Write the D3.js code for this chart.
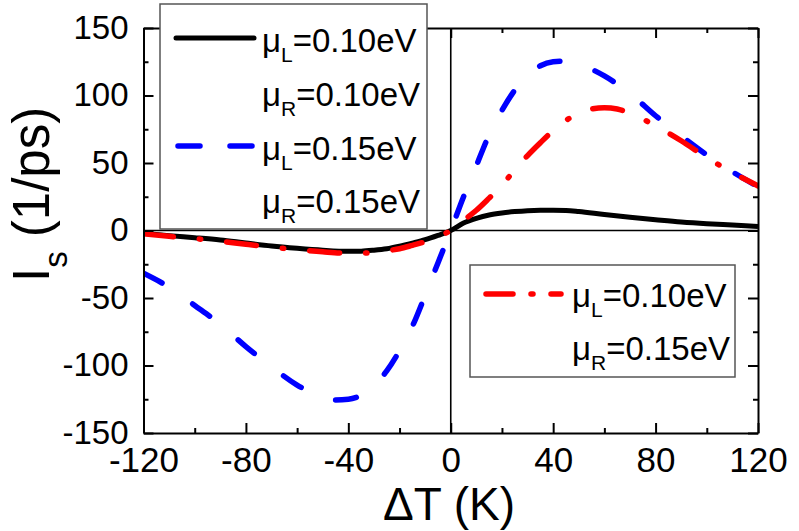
<!DOCTYPE html>
<html>
<head>
<meta charset="utf-8">
<script src="https://cdn.jsdelivr.net/npm/d3@7"></script>
<style>
  html, body { margin: 0; padding: 0; background: #fff; }
  svg { display: block; font-family: "Liberation Sans", Arial, sans-serif; }
</style>
</head>
<body>
<svg id="chart" width="799" height="531"></svg>
<script>
// ---- data ----
const xTicksMajor = [-120, -80, -40, 0, 40, 80, 120];
const xTicksMinor = [-100, -60, -20, 20, 60, 100];
const yTicksMajor = [-150, -100, -50, 0, 50, 100, 150];
const yTicksMinor = [-125, -75, -25, 25, 75, 125];

// mu_L = 0.10 eV, mu_R = 0.10 eV (black solid)
const tBlack = [-120,-110,-100,-90,-80,-70,-60,-50,-40,-35,-30,-25,-20,-15,-10,-5,0,5,10,15,20,25,30,35,40,45,50,60,70,80,90,100,110,120];
const vBlack = [-2,-3.8,-5.3,-7,-9.3,-11.5,-13.2,-14.6,-15.4,-15.3,-14.6,-13.5,-11.6,-9.3,-6.8,-3.6,0,5.5,9,11.5,13,14,14.7,15,15,14.8,14,11.8,9.8,8,6.3,5,4,3];

// mu_L = 0.15 eV, mu_R = 0.15 eV (blue dashed)
const tBlue = [-120,-110,-100,-90,-80,-70,-60,-55,-50,-45,-40,-35,-30,-25,-20,-15,-10,-5,0,5,10,15,20,25,30,35,40,45,50,55,60,70,80,90,100,110,120];
const vBlue = [-31.7,-42,-55.5,-69.5,-86,-101,-114.5,-119.5,-123.5,-125.5,-125,-122,-115,-104,-89,-71,-48,-24,0,25,48,71,89,104,115,122,125,125.5,123.5,119.5,114.5,101.5,85,70,56,43.5,32.5];

// mu_L = 0.10 eV, mu_R = 0.15 eV (red dash-dot)
const tRed = [-120,-110,-100,-90,-80,-70,-60,-50,-40,-35,-30,-25,-20,-15,-10,-5,0,5,10,15,20,25,30,35,40,45,50,55,60,65,70,80,90,100,110,120];
const vRed = [-2.5,-4.3,-6,-8,-10.2,-12.3,-14.2,-15.8,-16.8,-16.8,-16.2,-15,-13.5,-11,-8.3,-4.5,0,7.5,15,24,33.5,45,55.5,65,74,81.5,87,90,91,90,87,77.5,66.5,54,43,33];

const legend1 = [
  {sub: "L", val: "=0.10eV"}, {sub: "R", val: "=0.10eV"},
  {sub: "L", val: "=0.15eV"}, {sub: "R", val: "=0.15eV"}
];
const legend2 = [{sub: "L", val: "=0.10eV"}, {sub: "R", val: "=0.15eV"}];

// ---- layout ----
const svg = d3.select("#chart");
const L = 143.5, R = 758, T = 28, B = 433;
const x = d3.scaleLinear().domain([-120, 120]).range([L, R]);
const y = d3.scaleLinear().domain([-150, 150]).range([B, T]);
const fmt = d => String(d);

svg.append("defs").append("clipPath").attr("id", "clip")
  .append("rect").attr("x", L).attr("y", T).attr("width", R - L).attr("height", B - T);

// zero lines
svg.append("line").attr("x1", x(0)).attr("x2", x(0)).attr("y1", T).attr("y2", B)
  .attr("stroke", "#000").attr("stroke-width", 1.6);
svg.append("line").attr("x1", L).attr("x2", R).attr("y1", y(0)).attr("y2", y(0))
  .attr("stroke", "#000").attr("stroke-width", 1.6);

// curves
const line = d3.line().curve(d3.curveMonotoneX).x(d => x(d[0])).y(d => y(d[1]));
const plot = svg.append("g").attr("clip-path", "url(#clip)");
plot.append("path").datum(d3.zip(tBlack, vBlack)).attr("d", line)
  .attr("fill", "none").attr("stroke", "#000").attr("stroke-width", 5);
plot.append("path").datum(d3.zip(tBlue, vBlue)).attr("d", line)
  .attr("fill", "none").attr("stroke", "#0000ff").attr("stroke-width", 5.5)
  .attr("stroke-linecap", "round").attr("stroke-dasharray", "21,37");
plot.append("path").datum(d3.zip(tRed, vRed)).attr("d", line)
  .attr("fill", "none").attr("stroke", "#ff0000").attr("stroke-width", 5.5)
  .attr("stroke-linecap", "round").attr("stroke-dasharray", "30,26,1.5,26");

// axes
function styleAxis(g) {
  g.select(".domain").attr("stroke-width", 2);
  g.selectAll(".tick line").attr("stroke-width", 2);
}
const xb = svg.append("g").attr("transform", `translate(0,${B})`)
  .call(d3.axisBottom(x).tickValues(xTicksMajor).tickSize(-10).tickSizeOuter(0).tickFormat(fmt));
xb.selectAll(".tick text").attr("y", 39).attr("dy", null)
  .attr("font-size", 35).attr("font-family", "Liberation Sans, Arial, sans-serif").attr("fill", "#000");
styleAxis(xb);
const xbm = svg.append("g").attr("transform", `translate(0,${B})`)
  .call(d3.axisBottom(x).tickValues(xTicksMinor).tickSize(-5).tickSizeOuter(0).tickFormat(""));
xbm.select(".domain").remove(); styleAxis(xbm);

const xt = svg.append("g").attr("transform", `translate(0,${T})`)
  .call(d3.axisTop(x).tickValues(xTicksMajor).tickSize(-10).tickSizeOuter(0).tickFormat(""));
styleAxis(xt);
const xtm = svg.append("g").attr("transform", `translate(0,${T})`)
  .call(d3.axisTop(x).tickValues(xTicksMinor).tickSize(-5).tickSizeOuter(0).tickFormat(""));
xtm.select(".domain").remove(); styleAxis(xtm);

const yl = svg.append("g").attr("transform", `translate(${L},0)`)
  .call(d3.axisLeft(y).tickValues(yTicksMajor).tickSize(-10).tickSizeOuter(0).tickFormat(fmt));
yl.selectAll(".tick text").attr("x", -15).attr("dy", null).attr("y", 10)
  .attr("font-size", 33).attr("font-family", "Liberation Sans, Arial, sans-serif").attr("fill", "#000");
styleAxis(yl);
const ylm = svg.append("g").attr("transform", `translate(${L},0)`)
  .call(d3.axisLeft(y).tickValues(yTicksMinor).tickSize(-5).tickSizeOuter(0).tickFormat(""));
ylm.select(".domain").remove(); styleAxis(ylm);

const yr = svg.append("g").attr("transform", `translate(${R},0)`)
  .call(d3.axisRight(y).tickValues(yTicksMajor).tickSize(-10).tickSizeOuter(0).tickFormat(""));
styleAxis(yr);
const yrm = svg.append("g").attr("transform", `translate(${R},0)`)
  .call(d3.axisRight(y).tickValues(yTicksMinor).tickSize(-5).tickSizeOuter(0).tickFormat(""));
yrm.select(".domain").remove(); styleAxis(yrm);

// axis titles
const yt = svg.append("text").attr("transform", "translate(49,282) rotate(-90)")
  .attr("font-size", 51).attr("fill", "#000");
yt.append("tspan").text("I");
yt.append("tspan").attr("font-size", 33).attr("dy", 18).text("s");
yt.append("tspan").attr("dy", -18).text(" (1/ps)");

svg.append("text").attr("x", 449).attr("y", 520).attr("text-anchor", "middle")
  .attr("font-size", 46).attr("fill", "#000").text("ΔT (K)");

// legends
function legendText(g, xPos, yPos, d) {
  const t = g.append("text").attr("x", xPos).attr("y", yPos).attr("font-size", 33).attr("fill", "#000");
  t.append("tspan").text("μ");
  t.append("tspan").attr("font-size", 21).attr("dy", 10).text(d.sub);
  t.append("tspan").attr("dy", -10).text(d.val);
}
const lg1 = svg.append("g");
lg1.append("rect").attr("x", 160).attr("y", 4).attr("width", 267).attr("height", 225)
  .attr("fill", "#fff").attr("stroke", "#555").attr("stroke-width", 1.5);
const base1 = [52, 106, 160, 213];
legend1.forEach((d, i) => legendText(lg1, 262, base1[i], d));
lg1.append("line").attr("x1", 176).attr("x2", 254).attr("y1", 38).attr("y2", 38)
  .attr("stroke", "#000").attr("stroke-width", 5).attr("stroke-linecap", "round");
lg1.append("line").attr("x1", 178).attr("x2", 252).attr("y1", 146).attr("y2", 146)
  .attr("stroke", "#0000ff").attr("stroke-width", 5.5).attr("stroke-linecap", "round")
  .attr("stroke-dasharray", "22,30");

const lg2 = svg.append("g");
lg2.append("rect").attr("x", 470).attr("y", 265).attr("width", 265).attr("height", 112)
  .attr("fill", "#fff").attr("stroke", "#555").attr("stroke-width", 1.5);
const base2 = [307, 360];
legend2.forEach((d, i) => legendText(lg2, 572, base2[i], d));
lg2.append("line").attr("x1", 486).attr("x2", 561).attr("y1", 294).attr("y2", 294)
  .attr("stroke", "#ff0000").attr("stroke-width", 5.5).attr("stroke-linecap", "round")
  .attr("stroke-dasharray", "27,18,2,18");
</script>
</body>
</html>
